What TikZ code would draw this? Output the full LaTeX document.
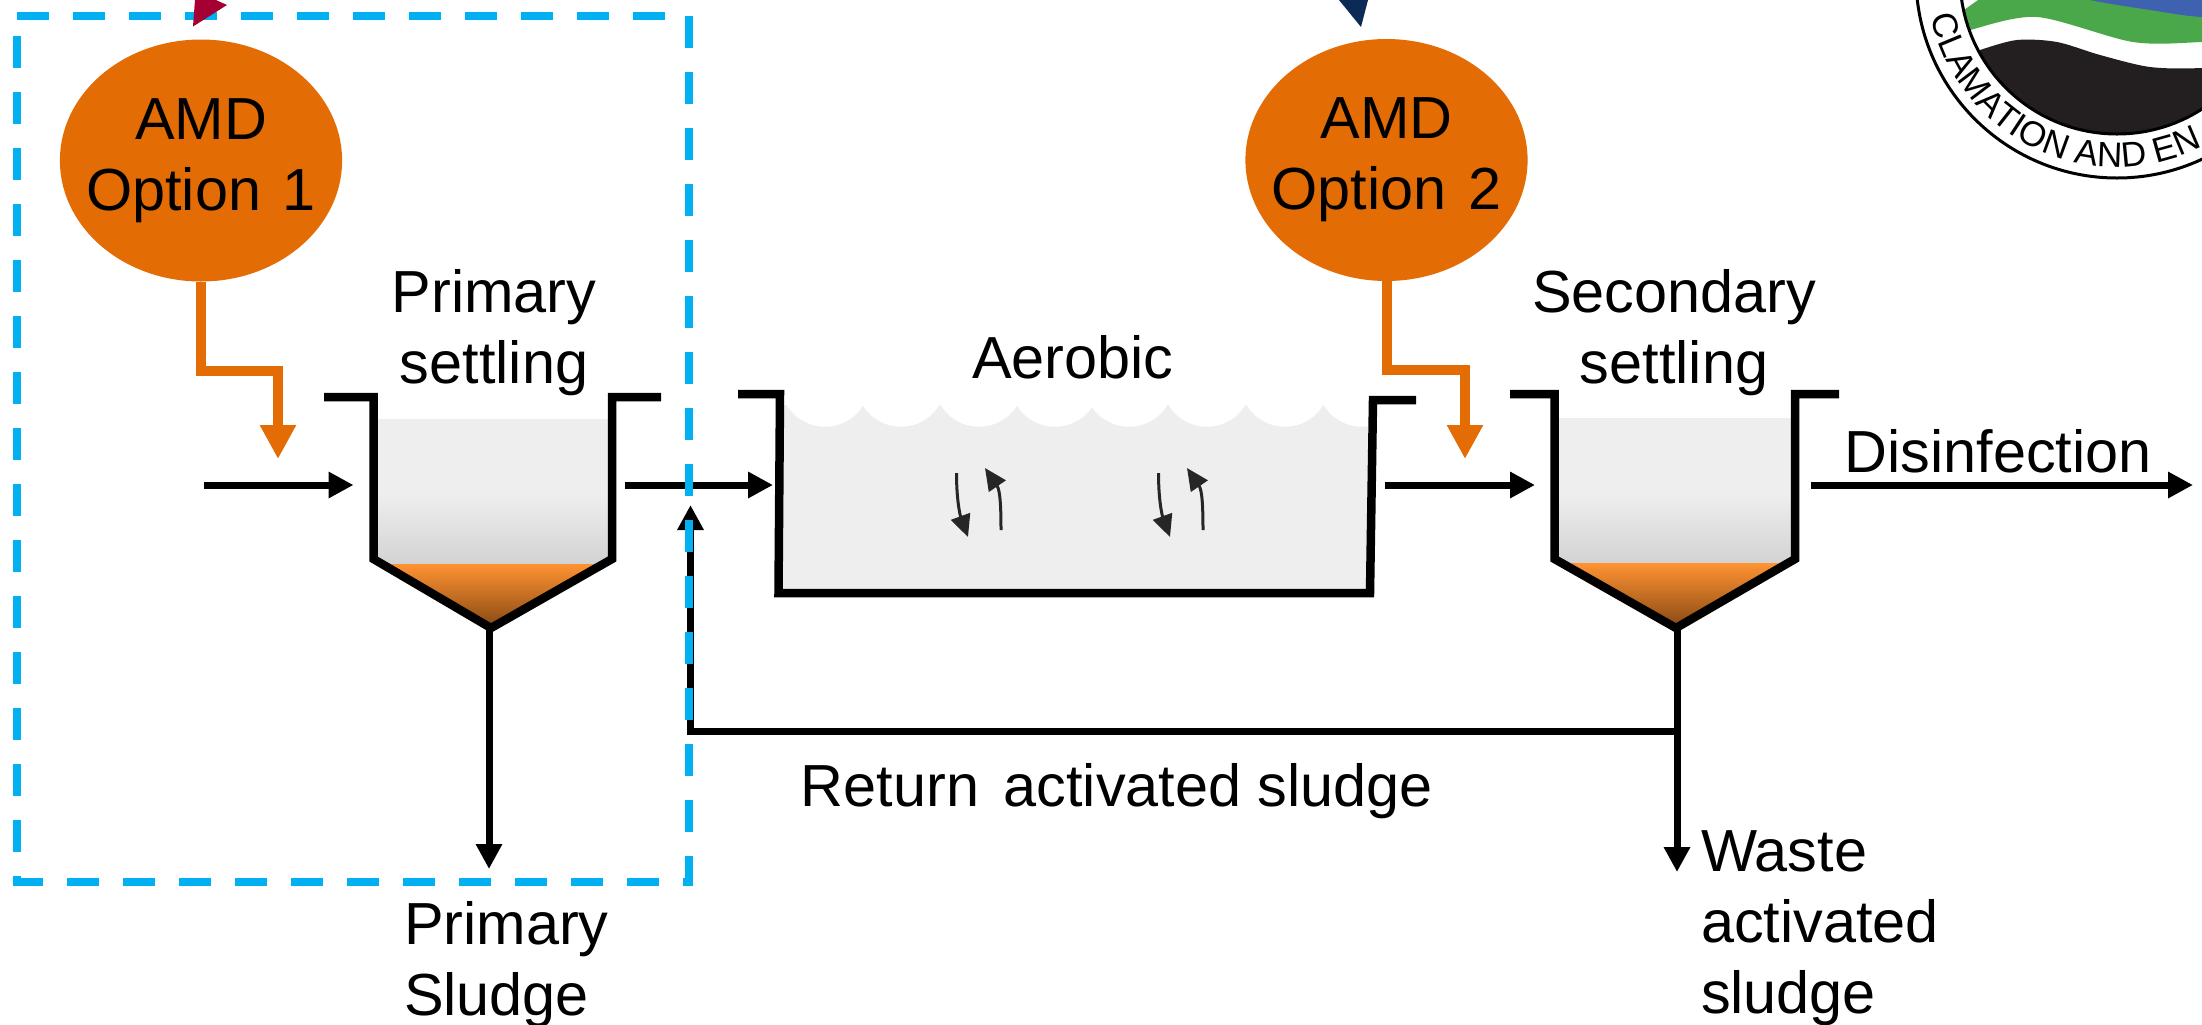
\documentclass[tikz,border=0pt]{standalone}
\usepackage{fontspec}
\setmainfont{Liberation Sans}
\usepackage{xcolor}
\usepackage{tikz}
\usetikzlibrary{arrows.meta, shapes.geometric, decorations.text}
\definecolor{Dose}{HTML}{E36C04}
\definecolor{Frame}{HTML}{00B0F0}
\definecolor{Water}{HTML}{EEEEEE}
\definecolor{WaterLow}{HTML}{D3D3D3}
\definecolor{SludgeTop}{HTML}{FF9332}
\definecolor{SludgeLow}{HTML}{8A4A14}
\definecolor{Crimson}{HTML}{A50034}
\definecolor{Navy}{HTML}{0B2A55}
\definecolor{LogoBlue}{HTML}{3E62B0}
\definecolor{LogoGreen}{HTML}{4AA84B}
\definecolor{LogoBlack}{HTML}{231F20}

\begin{document}
\begin{tikzpicture}[
  y=-1cm,
  font=\fontsize{16.9}{20.2}\selectfont,
  amd/.style={ellipse, fill=Dose, inner xsep=-0.15cm, inner ysep=0pt, outer sep=0pt, align=center, minimum width=2.82cm, minimum height=2.42cm},
  label/.style={inner sep=0pt, outer sep=0pt, align=center},
  wall/.style={line width=0.085cm, draw=black, miter limit=10},
  flow/.style={-{Triangle[length=0.25cm, width=0.25cm]}, line width=0.07cm, draw=black},
  dose/.style={-{Triangle[length=0.34cm, width=0.34cm]}, line width=0.10cm, draw=Dose},
  mix/.style={-{Triangle[length=0.22cm, width=0.2cm]}, line width=0.03cm, draw=black!85},
  frame/.style={draw=Frame, line width=0.08cm, dash pattern=on 0.32cm off 0.24cm}
]
\useasboundingbox (0,0) rectangle (22.02,10.24);
\clip (0,0) rectangle (22.02,10.24);

% liquid in the tanks
\fill[Water] (3.77,4.19) rectangle (6.09,4.95);
\shade[top color=Water, bottom color=WaterLow] (3.77,4.94) rectangle (6.09,5.64);
\shade[top color=SludgeTop, bottom color=SludgeLow] (3.80,5.64) -- (6.03,5.64) -- (4.91,6.26) -- cycle;
\fill[Water] (7.83,4.05) rectangle (13.68,5.90);
\foreach \dip in {8.25,9.01,9.79,10.55,11.29,12.07,12.85,13.62}
  \fill[white] (\dip,3.82) circle (0.447);
\fill[Water] (15.58,4.18) rectangle (17.92,4.95);
\shade[top color=Water, bottom color=WaterLow] (15.58,4.94) rectangle (17.92,5.63);
\shade[top color=SludgeTop, bottom color=SludgeLow] (15.62,5.63) -- (17.88,5.63) -- (16.76,6.26) -- cycle;

% tanks
\draw[wall] (3.24,3.97) -- (3.735,3.97) -- (3.735,5.59) -- (4.91,6.28) -- (6.12,5.59) -- (6.12,3.97) -- (6.61,3.97);
\draw[wall] (7.38,3.94) -- (7.80,3.94) -- (7.785,5.93) -- (13.70,5.93) -- (13.73,4.00) -- (14.16,4.00);
\draw[wall] (15.10,3.94) -- (15.546,3.94) -- (15.546,5.59) -- (16.76,6.28) -- (17.95,5.59) -- (17.95,3.94) -- (18.39,3.94);

\foreach \dx in {0,2.02} {
  \draw[mix] (9.565+\dx,4.73) .. controls (9.565+\dx,5.00) and (9.60+\dx,5.15) .. (9.68+\dx,5.37);
  \draw[mix] (10.01+\dx,5.30) .. controls (10.01+\dx,5.05) and (10.00+\dx,4.90) .. (9.85+\dx,4.68);
}

% dosing points
\node[amd] (amd1) at (2.01,1.605) {AMD\\Option\hspace{0.05cm} 1};
\node[amd] (amd2) at (13.865,1.60) {AMD\\Option\hspace{0.05cm} 2};
\coordinate (dose1) at (2.78,4.59);
\coordinate (dose2) at (14.65,4.59);
\draw[dose] (amd1.south) -- ++(0,0.89) -| (dose1);
\draw[dose] (amd2.south) -- ++(0,0.89) -| (dose2);

% process line
\coordinate (inflow) at (2.04,4.85);
\coordinate (primaryin) at (3.535,4.85);
\coordinate (primaryout) at (6.25,4.85);
\coordinate (aerobicin) at (7.73,4.85);
\coordinate (aerobicout) at (13.85,4.85);
\coordinate (secondaryin) at (15.35,4.85);
\coordinate (secondaryout) at (18.11,4.85);
\coordinate (outflow) at (21.93,4.85);
\coordinate (primarycone) at (4.89,6.27);
\coordinate (primaryend) at (4.89,8.69);
\coordinate (secondarycone) at (16.77,6.27);
\coordinate (wasteend) at (16.77,8.72);
\coordinate (returnsplit) at (16.77,7.31);
\coordinate (returnend) at (6.905,5.05);
\draw[flow] (inflow) -- (primaryin);
\draw[flow] (primaryout) -- (aerobicin);
\draw[flow] (aerobicout) -- (secondaryin);
\draw[flow] (secondaryout) -- (outflow);
\draw[flow] (primarycone) -- (primaryend);
\draw[flow] (secondarycone) -- (wasteend);
\draw[flow] (returnsplit) -| (returnend);

% labels
\node[label] (primary) at (4.94,3.33) {Primary\\settling};
\node[label] (aerobic) at (10.73,3.78) [anchor=base] {Aerobic};
\node[label] (secondary) at (16.74,3.325) {Secondary\\settling};
\node[label] (disinfection) at (19.98,4.72) [anchor=base] {Disinfection};
\node[label] (returnsludge) at (11.17,8.06) [anchor=base] {Return\hspace{0.08cm} activated sludge};
\node[label, align=left, anchor=west] (primarysludge) at (4.04,9.65) {Primary\\Sludge};
\node[label, align=left, anchor=west] (wastesludge) at (17.01,9.28) {Waste\\activated\\sludge};

% logo in the corner
\begin{scope}[shift={(21.17,-0.23)}, y=1cm]
  \fill[white] (0,0) circle (2.01);
  \begin{scope}
    \clip (0,0) circle (1.57);
    \fill[LogoGreen] plot[smooth] coordinates {(-1.6,-0.58) (-1.47,-0.53) (-0.80,-0.40) (0.16,-0.65) (0.85,-0.65) (1.6,-0.6)} -- (1.6,0.5) -- (-1.39,0.5) -- (-1.39,-0.23) -- (-1.6,-0.38) -- cycle;
    \fill[LogoBlue] plot[smooth] coordinates {(-0.6,-0.12) (-0.27,-0.23) (0.33,-0.33) (0.85,-0.40) (1.6,-0.4)} -- (1.6,0.5) -- (-0.6,0.5) -- cycle;
    \fill[LogoBlack] plot[smooth] coordinates {(-1.6,-0.82) (-1.37,-0.73) (-1.0,-0.63) (-0.60,-0.65) (-0.17,-0.78) (0.33,-0.90) (0.85,-0.91) (1.6,-0.85)} -- (1.6,-1.7) -- (-1.6,-1.7) -- cycle;
  \end{scope}
  \draw[black, line width=0.03cm] (0,0) circle (2.01);
  \draw[black, line width=0.03cm] (0,0) circle (1.57);
  \path[decorate, decoration={text along path, text align={left}, text={|\fontsize{10}{12}\selectfont|CLAMATION AND EN}}] (192:1.90) arc[start angle=192, end angle=330, radius=1.90];
\end{scope}

% dashed frame and cut off markers
\draw[frame] (0.17,0.155) -- (6.89,0.155) -- (6.89,8.82) -- (0.17,8.82) -- cycle;
\fill[Crimson] (1.93,0.265) -- (1.95,0) -- (2.16,0) -- (2.27,0.05) -- cycle;
\fill[Navy] (13.39,0) -- (13.68,0) -- (13.61,0.27) -- cycle;
\end{tikzpicture}
\end{document}
